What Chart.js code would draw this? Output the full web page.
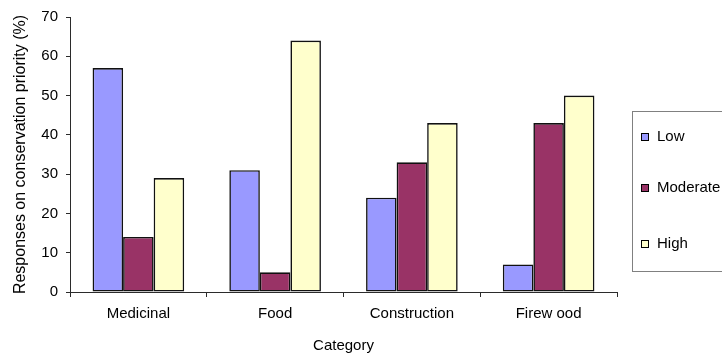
<!DOCTYPE html>
<html>
<head>
<meta charset="utf-8">
<script src="https://cdn.jsdelivr.net/npm/chart.js@4/dist/chart.umd.min.js"></script>
<style>
  html, body { margin: 0; padding: 0; background: #ffffff; }
  #wrap { position: relative; width: 722px; height: 358px; }
</style>
</head>
<body>
<div id="wrap"><canvas id="chart" width="722" height="358"></canvas></div>
<script>
// Conservation priority responses by use category (%)
const categories = ['Medicinal', 'Food', 'Construction', 'Firew ood'];
const seriesNames = ['Low', 'Moderate', 'High'];
const lowValues = [57, 31, 24, 7];
const moderateValues = [14, 5, 33, 43];
const highValues = [29, 64, 43, 50];
const yTicks = [0, 10, 20, 30, 40, 50, 60, 70];

const seriesColors = ['#9999ff', '#993366', '#ffffcc'];
const FONT = 'Liberation Sans, Arial, sans-serif';
const AXIS_COLOR = '#2b2b2b';

// Boxed legend on the right, drawn onto the canvas
const sideLegend = {
  id: 'sideLegend',
  afterDraw(chart) {
    const ctx = chart.ctx;
    ctx.save();
    ctx.strokeStyle = '#808080';
    ctx.lineWidth = 1;
    ctx.strokeRect(632.5, 111.5, 100, 160);
    const rows = [137, 188, 244];
    chart.data.datasets.forEach((ds, i) => {
      const y = rows[i];
      ctx.fillStyle = ds.backgroundColor;
      ctx.fillRect(641, y - 4, 7, 7);
      ctx.strokeStyle = '#000';
      ctx.strokeRect(641.5, y - 3.5, 7, 7);
      ctx.fillStyle = '#000';
      ctx.font = '15px ' + FONT;
      ctx.textBaseline = 'middle';
      ctx.textAlign = 'left';
      ctx.fillText(ds.label, 657, y);
    });
    ctx.restore();
  }
};

const valueSets = [lowValues, moderateValues, highValues];

new Chart(document.getElementById('chart'), {
  type: 'bar',
  data: {
    labels: categories,
    datasets: seriesNames.map((name, i) => ({
      label: name,
      data: valueSets[i],
      backgroundColor: seriesColors[i],
      borderColor: '#111111',
      borderWidth: 1.6,
      borderSkipped: false,
      categoryPercentage: 0.67,
      barPercentage: 1.0
    }))
  },
  options: {
    responsive: false,
    animation: false,
    devicePixelRatio: 1,
    layout: { padding: { top: 15, right: 105, left: 0, bottom: 0 } },
    plugins: {
      legend: { display: false },
      tooltip: { enabled: false }
    },
    scales: {
      x: {
        grid: {
          display: true,
          drawOnChartArea: false,
          offset: true,
          tickLength: 5,
          color: AXIS_COLOR
        },
        border: { display: true, color: AXIS_COLOR, width: 1 },
        ticks: {
          color: '#000',
          font: { family: FONT, size: 15 },
          padding: 8,
          maxRotation: 0
        },
        title: {
          display: true,
          text: 'Category',
          color: '#000',
          font: { family: FONT, size: 15 },
          padding: { top: 0, bottom: 3 }
        },
        afterFit(scale) { scale.height = 66; }
      },
      y: {
        min: 0,
        max: 70,
        afterBuildTicks(scale) { scale.ticks = yTicks.map(v => ({ value: v })); },
        grid: {
          display: true,
          drawOnChartArea: false,
          tickLength: 4,
          color: AXIS_COLOR
        },
        border: { display: true, color: AXIS_COLOR, width: 1 },
        ticks: {
          color: '#000',
          font: { family: FONT, size: 15 },
          padding: 8
        },
        title: {
          display: true,
          text: 'Responses on conservation priority (%)',
          color: '#000',
          font: { family: FONT, size: 16 },
          padding: { top: 11, bottom: 0 }
        },
        afterFit(scale) { scale.width = 70; }
      }
    }
  },
  plugins: [sideLegend]
});
</script>
</body>
</html>
